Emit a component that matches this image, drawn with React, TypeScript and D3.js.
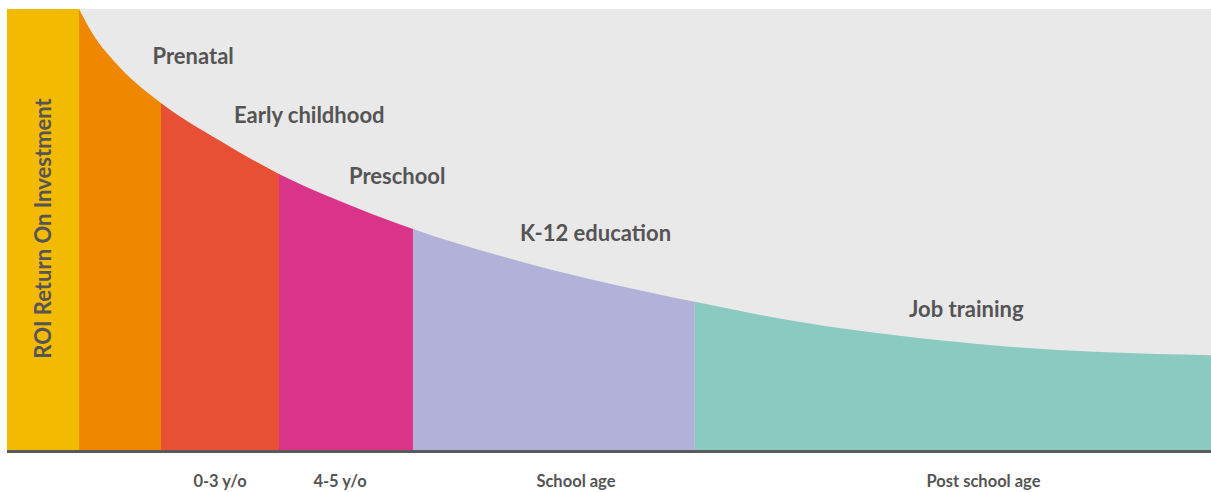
import { useMemo } from "react";
import * as d3 from "d3";

// ── Data ──────────────────────────────────────────────────────────────────────

// Life-course position (0–100) and relative return on investment (0–100)
const curveX = [0, 1.15, 3.6, 7.24, 12.46, 17.67, 22.6, 29.5, 39.8, 54.4, 63.7, 72.5, 81.4, 90.2, 100];
const curveROI = [100, 94.6, 86.8, 78.7, 70.1, 62.6, 56.9, 50.1, 42.2, 33.6, 29.0, 25.9, 23.6, 22.2, 21.5];

const stageNames = ["Prenatal", "Early childhood", "Preschool", "K-12 education", "Job training"];
const stageStart = [0, 7.24, 17.67, 29.5, 54.4];
const stageEnd = [7.24, 17.67, 29.5, 54.4, 100];
const stageColours = ["#F08700", "#E85036", "#D9348A", "#B1B1D9", "#8BCAC0"];
// label anchor (start x, ROI level of the baseline)
const stageLabelX = [6.49, 13.69, 23.85, 38.96, 73.32];
const stageLabelROI = [87.5, 74.1, 60.3, 47.4, 30.2];

const ageLabels = ["0-3 y/o", "4-5 y/o", "School age", "Post school age"];
const ageLabelX = [12.46, 23.06, 43.9, 79.9];

const AXIS_TITLE = "ROI Return On Investment";

// ── Layout ────────────────────────────────────────────────────────────────────

const W = 1211;
const H = 492;
const LEFT = 7;
const BAND = 72;
const TOP = 9;
const BOTTOM = 450;
const INK = "#555555";
const FONT = "Lato, 'Open Sans', sans-serif";

export default function App() {
  const xScale = useMemo(
    () => d3.scaleLinear().domain([0, 100]).range([LEFT + BAND, W]),
    []
  );
  const yScale = useMemo(() => d3.scaleLinear().domain([0, 100]).range([BOTTOM, TOP]), []);

  const points = curveX.map((x, i) => [x, curveROI[i]] as [number, number]);

  const area = d3
    .area<[number, number]>()
    .x((d) => xScale(d[0]))
    .y0(yScale(0))
    .y1((d) => yScale(d[1]))
    .curve(d3.curveMonotoneX);
  const areaPath = area(points) ?? "";

  return (
    <svg
      width={W}
      height={H}
      style={{ position: "absolute", left: 0, top: 0, fontFamily: FONT }}
    >
      <defs>
        {stageNames.map((_, i) => (
          <clipPath id={`seg-${i}`} key={i}>
            <rect
              x={xScale(stageStart[i])}
              y={TOP}
              width={xScale(stageEnd[i]) - xScale(stageStart[i])}
              height={BOTTOM - TOP}
            />
          </clipPath>
        ))}
      </defs>

      {/* background */}
      <rect x={LEFT} y={TOP} width={W - LEFT} height={BOTTOM - TOP} fill="#E9E9E9" />

      {/* axis title band */}
      <rect x={LEFT} y={TOP} width={BAND} height={BOTTOM - TOP} fill="#F2BA00" />
      <text
        transform={`translate(${LEFT + BAND / 2 + 8},${(TOP + BOTTOM) / 2 - 1}) rotate(-90)`}
        textAnchor="middle"
        fontSize={22}
        fontWeight={700}
        fill={INK}
      >
        {AXIS_TITLE}
      </text>

      {/* stage areas under the ROI curve */}
      {stageNames.map((name, i) => (
        <path key={name} d={areaPath} fill={stageColours[i]} clipPath={`url(#seg-${i})`} />
      ))}

      {/* stage labels */}
      {stageNames.map((name, i) => (
        <text
          key={name}
          x={xScale(stageLabelX[i])}
          y={yScale(stageLabelROI[i])}
          fontSize={22}
          fontWeight={700}
          fill={INK}
        >
          {name}
        </text>
      ))}

      {/* baseline */}
      <line x1={LEFT} x2={W} y1={BOTTOM + 1.5} y2={BOTTOM + 1.5} stroke="#5a5a5a" strokeWidth={3} />

      {/* age labels */}
      {ageLabels.map((lab, i) => (
        <text
          key={lab}
          x={xScale(ageLabelX[i])}
          y={487}
          textAnchor="middle"
          fontSize={16.5}
          fontWeight={700}
          fill={INK}
        >
          {lab}
        </text>
      ))}
    </svg>
  );
}
